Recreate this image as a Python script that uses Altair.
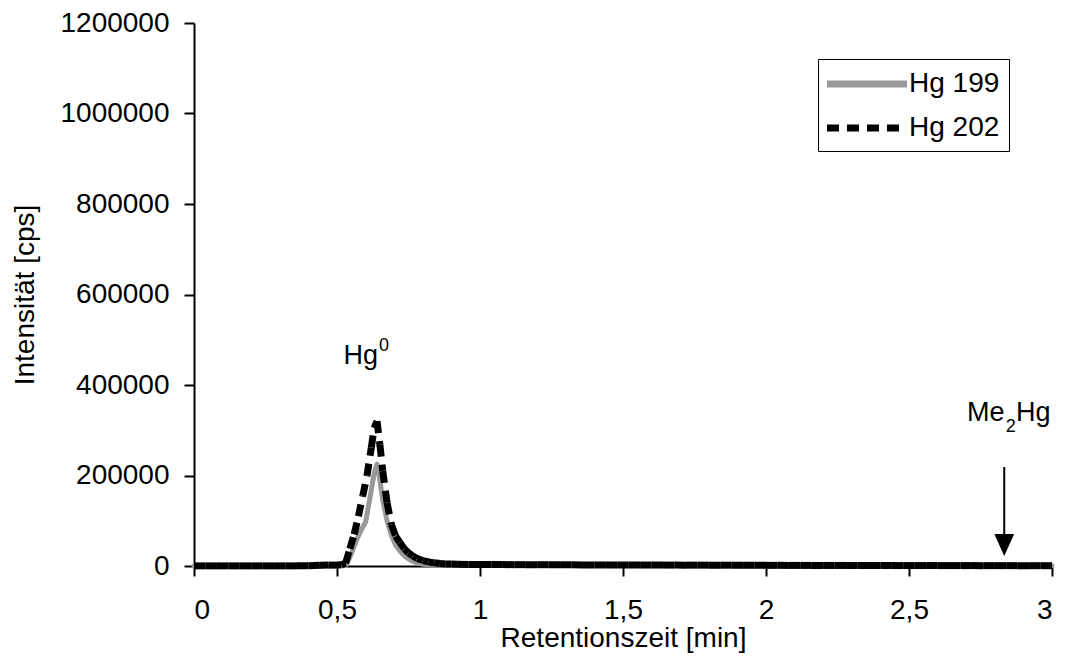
import altair as alt
import pandas as pd

# ---------------- data ----------------
series_names = ["Hg 199", "Hg 202"]
series_colors = ["#999999", "#000000"]

t199 = [0, 0.5, 0.53, 0.54, 0.555, 0.57, 0.585, 0.6, 0.615, 0.63, 0.64, 0.65, 0.66,
        0.675, 0.69, 0.705, 0.72, 0.74, 0.76, 0.78, 0.8, 0.85, 0.9, 1.0, 1.5, 2.0, 2.5, 3.0]
v199 = [0, 300, 1000, 12000, 35000, 60000, 80000, 97000, 150000, 205000, 225000, 190000, 145000,
        100000, 68000, 46000, 33000, 20000, 12000, 7000, 4000, 2000, 1500, 1200, 1000, 800, 600, 500]

t202 = [0, 0.04, 0.08, 0.12, 0.16, 0.2, 0.24, 0.28, 0.32, 0.36, 0.4, 0.44, 0.47, 0.5, 0.515, 0.53,
        0.545, 0.56, 0.575, 0.59, 0.605, 0.62, 0.63, 0.64, 0.65, 0.66, 0.675, 0.69, 0.705, 0.72,
        0.735, 0.75, 0.765, 0.78, 0.8, 0.82, 0.84, 0.86, 0.88, 0.9,
        0.92, 0.96, 1.0, 1.04, 1.08, 1.12, 1.16, 1.2, 1.24, 1.28, 1.32, 1.36, 1.4, 1.44, 1.48,
        1.52, 1.56, 1.6, 1.64, 1.68, 1.72, 1.76, 1.8, 1.84, 1.88, 1.92, 1.96, 2.0, 2.04, 2.08,
        2.12, 2.16, 2.2, 2.24, 2.28, 2.32, 2.36, 2.4, 2.44, 2.48, 2.52, 2.56, 2.6, 2.64, 2.68,
        2.72, 2.76, 2.8, 2.84, 2.88, 2.92, 2.96, 3.0]
v202 = [300, 300, 300, 300, 300, 300, 300, 300, 300, 300, 400, 1500, 2000, 2000, 2500, 6000,
        38000, 70000, 110000, 155000, 200000, 262000, 305000, 320000, 268000, 210000, 140000, 92000, 66000, 52000,
        38000, 29000, 22000, 16500, 12000, 9000, 7000, 5500, 4600, 4200,
        3800, 3500, 3300, 3200, 3100, 3000, 3000, 2900, 2900, 2700, 2500, 2400, 2300, 2300, 2200,
        2200, 2100, 2100, 2000, 2000, 1900, 1900, 1900, 1800, 1800, 1700, 1500, 1400, 1400, 1300,
        1300, 1300, 1200, 1200, 1200, 1100, 1100, 1100, 1000, 1000, 1000, 1000, 900, 900, 900,
        900, 800, 800, 800, 800, 700, 700, 700]

x_ticks = [0, 0.5, 1, 1.5, 2, 2.5, 3]
y_ticks = [0, 200000, 400000, 600000, 800000, 1000000, 1200000]

# annotation texts (Hg^0 and Me_2Hg, with raised / lowered small digits)
ann_text = ["Hg", "0", "Me", "2", "Hg"]
ann_x = [0.523, 0.647, 2.703, 2.838, 2.874]
ann_y = [446400, 475100, 320400, 296100, 320400]
ann_size = [27, 18, 27, 18, 27]

arrow_x = [2.833]
arrow_top = [218800]
arrow_base = [70700]
arrow_tip = [22000]

FONT = "Liberation Sans"

# ---------------- tables ----------------
df199 = pd.DataFrame({"t": t199, "v": v199, "series": "Hg 199"})

rows = []
for i in range(len(t202) - 1):
    rows.append({"t": t202[i], "v": v202[i], "series": "Hg 202", "seg": i})
    rows.append({"t": t202[i + 1], "v": v202[i + 1], "series": "Hg 202", "seg": i})
df202 = pd.DataFrame(rows)

df_ann = pd.DataFrame({"txt": ann_text, "x": ann_x, "y": ann_y, "fs": ann_size})
df_arrow = pd.DataFrame({"x": arrow_x, "y": arrow_top, "y2": arrow_base, "tip": arrow_tip})

x_scale = alt.Scale(domain=[0, 3], nice=False, zero=False)
y_scale = alt.Scale(domain=[0, 1200000], nice=False)

x_axis = alt.Axis(values=x_ticks, title="Retentionszeit [min]", grid=False,
                  labelExpr="replace(toString(datum.value), '.', ',')",
                  tickSize=10, labelPadding=20, titlePadding=0)
y_axis = alt.Axis(values=y_ticks, title="Intensität [cps]", grid=False, format="d",
                  tickSize=10, labelPadding=15, titlePadding=20)

legend = alt.Legend(title=None, orient="none", legendX=624, legendY=36,
                    symbolType="M-1.28,0L5.12,0", symbolSize=625, symbolStrokeWidth=7,
                    labelFontSize=28, labelOffset=50, padding=9, rowPadding=14,
                    strokeColor="#000000", fillColor="white", labelColor="black",
                    labelFont=FONT)

color_enc = alt.Color("series:N", scale=alt.Scale(domain=series_names, range=series_colors),
                      legend=legend)
dash_enc = alt.StrokeDash("series:N", scale=alt.Scale(domain=series_names, range=[[1, 0], [12, 8]]),
                          legend=legend)

gray = alt.Chart(df199).mark_line(strokeWidth=5, strokeCap="round", strokeJoin="round").encode(
    x=alt.X("t:Q", scale=x_scale, axis=x_axis),
    y=alt.Y("v:Q", scale=y_scale, axis=y_axis),
    color=color_enc,
    strokeDash=dash_enc,
)

black = alt.Chart(df202).mark_line(strokeWidth=7, strokeCap="butt").encode(
    x=alt.X("t:Q", scale=x_scale),
    y=alt.Y("v:Q", scale=y_scale),
    color=color_enc,
    strokeDash=dash_enc,
    detail="seg:N",
)

ann = alt.Chart(df_ann).mark_text(align="left", baseline="alphabetic", font=FONT, color="black").encode(
    x=alt.X("x:Q", scale=x_scale),
    y=alt.Y("y:Q", scale=y_scale),
    text="txt:N",
    size=alt.Size("fs:Q", scale=None, legend=None),
)

arrow_line = alt.Chart(df_arrow).mark_rule(color="black", strokeWidth=2).encode(
    x=alt.X("x:Q", scale=x_scale),
    y=alt.Y("y:Q", scale=y_scale),
    y2="y2:Q",
)

arrow_head = alt.Chart(df_arrow).mark_point(
    shape="M-0.9,-2L0.9,-2L0,0Z", filled=True, color="black", opacity=1, size=484, strokeWidth=0
).encode(
    x=alt.X("x:Q", scale=x_scale),
    y=alt.Y("tip:Q", scale=y_scale),
)

chart = alt.layer(gray, black, arrow_line, arrow_head, ann).resolve_scale(
    color="shared", strokeDash="shared"
).properties(
    width=858, height=543,
    autosize=alt.AutoSizeParams(type="none"),
    padding={"left": 186, "top": 15, "right": 6, "bottom": 89},
).configure(font=FONT).configure_view(stroke=None).configure_axis(
    domainColor="black", domainWidth=2, tickColor="black", tickWidth=2,
    labelFont=FONT, titleFont=FONT, labelFontSize=28, titleFontSize=28,
    labelColor="black", titleColor="black", titleFontWeight="normal",
)

chart.save("out.html", embed_options={"renderer": "svg", "actions": False})
